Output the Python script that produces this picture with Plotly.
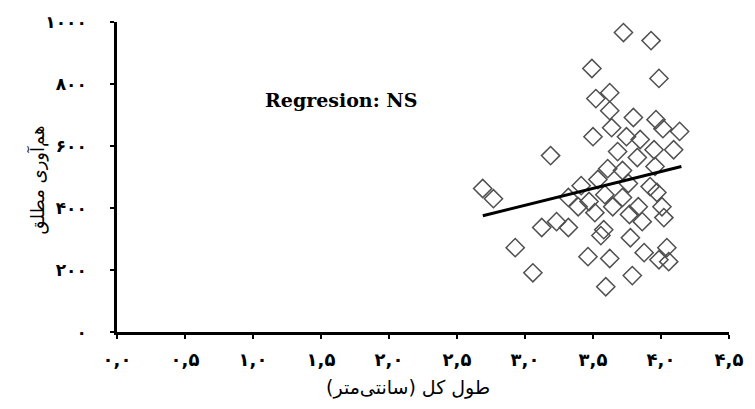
import plotly.graph_objects as go

# Data (total length in cm, absolute fecundity)
length_cm = [3.724, 3.927, 3.492, 3.985, 3.623, 3.521, 3.623, 3.797, 3.963, 3.637,
             4.014, 4.137, 3.746, 3.500, 3.188, 3.681, 3.949, 4.093, 3.826, 3.608,
             3.717, 3.760, 3.920, 3.413, 3.587, 3.717, 3.970, 3.471, 3.514, 3.645,
             3.768, 3.862, 4.007, 4.021, 3.579, 3.558, 3.775, 3.463, 3.623, 3.876,
             4.043, 3.985, 4.057, 3.789, 3.594, 2.689, 2.768, 3.123, 3.232, 3.319,
             3.319, 2.928, 3.058, 3.833, 3.956, 3.391, 3.847, 3.536]
fecundity = [966, 940, 850, 818, 772, 753, 714, 692, 685, 659,
             656, 647, 630, 630, 569, 582, 588, 588, 563, 527,
             521, 479, 469, 472, 443, 434, 450, 421, 385, 404,
             379, 356, 404, 369, 330, 311, 304, 243, 237, 256,
             272, 233, 227, 182, 146, 463, 430, 337, 356, 337,
             434, 272, 191, 404, 534, 404, 621, 492]

# Regression line end points
reg_x = [2.69, 4.15]
reg_y = [375, 534]

x_ticks = [0, 0.5, 1.0, 1.5, 2.0, 2.5, 3.0, 3.5, 4.0, 4.5]
x_tick_labels = ["۰,۰", "۰,۵", "۱,۰", "۱,۵", "۲,۰", "۲,۵", "۳,۰", "۳,۵", "۴,۰", "۴,۵"]
y_ticks = [0, 200, 400, 600, 800, 1000]
y_tick_labels = ["۰", "۲۰۰", "۴۰۰", "۶۰۰", "۸۰۰", "۱۰۰۰"]

x_title = "طول کل (سانتی‌متر)"
y_title = "هم‌آوری مطلق"
note_text = "Regresion: NS"

fig = go.Figure()
fig.add_trace(go.Scatter(
    x=length_cm, y=fecundity, mode="markers",
    marker=dict(symbol="diamond-open", size=14, color="#505050",
                line=dict(width=1.5, color="#505050")),
    showlegend=False, hoverinfo="skip"))
fig.add_trace(go.Scatter(
    x=reg_x, y=reg_y, mode="lines",
    line=dict(color="black", width=3), showlegend=False, hoverinfo="skip"))

xtickfont = dict(family="DejaVu Sans", size=18, color="black", weight="bold")
ytickfont = dict(family="DejaVu Sans", size=17, color="black", weight="bold")

fig.update_layout(
    width=755, height=409,
    margin=dict(l=117, r=17, t=22, b=77),
    paper_bgcolor="white", plot_bgcolor="white",
    xaxis=dict(range=[0, 4.5], tickvals=x_ticks, ticktext=x_tick_labels,
               showgrid=False, zeroline=False, showline=True,
               linecolor="black", linewidth=2.5, ticks="outside",
               ticklen=4, tickwidth=2, tickcolor="black",
               tickfont=xtickfont, ticklabelstandoff=6),
    yaxis=dict(range=[0, 1000], tickvals=y_ticks, ticktext=y_tick_labels,
               showgrid=False, zeroline=False, showline=True,
               linecolor="black", linewidth=2.5, ticks="outside",
               ticklen=4, tickwidth=2, tickcolor="black",
               tickfont=ytickfont, ticklabelstandoff=20),
    annotations=[
        dict(x=1.65, y=750, xref="x", yref="y", text=note_text, showarrow=False,
             xanchor="center", yanchor="middle",
             font=dict(family="DejaVu Serif", size=19, color="black", weight="bold")),
        dict(x=0.475, y=-0.18, xref="paper", yref="paper", text=x_title,
             xanchor="center", yanchor="middle", showarrow=False,
             font=dict(family="DejaVu Sans", size=19, color="black")),
        dict(x=-0.13, y=0.49, xref="paper", yref="paper", text=y_title,
             xanchor="center", yanchor="middle", textangle=-90, showarrow=False,
             font=dict(family="DejaVu Sans", size=18, color="black")),
    ],
)

fig.write_html("out.html")
